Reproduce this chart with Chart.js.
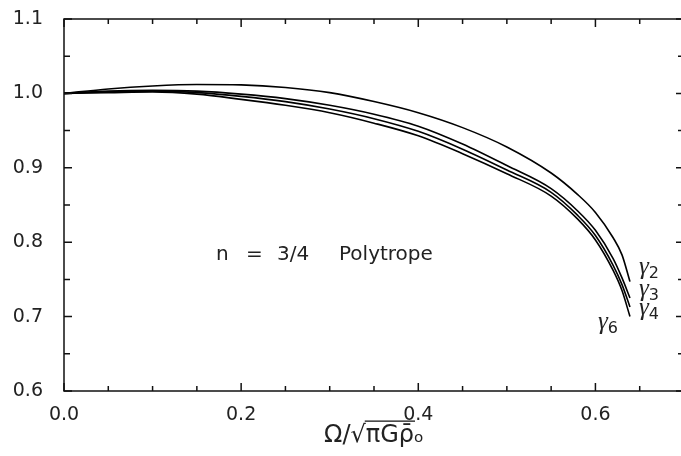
<!DOCTYPE html>
<html>
<head>
<meta charset="utf-8">
<script src="https://cdn.jsdelivr.net/npm/chart.js@4.4.1/dist/chart.umd.min.js"></script>
<style>
html, body { margin: 0; padding: 0; background: #fff; overflow: hidden; }
canvas { display: block; }
</style>
</head>
<body>
<canvas id="polytropeChart" width="684" height="456"></canvas>
<script>
// Omega / sqrt(pi G rho), shared by every curve
let omega  = [0, 0.05, 0.1, 0.15, 0.2, 0.25, 0.3, 0.35, 0.4, 0.45, 0.5, 0.55, 0.58, 0.6, 0.62, 0.63, 0.639];
let gamma2 = [1.000, 1.006, 1.010, 1.012, 1.0115, 1.008, 1.001, 0.989, 0.974, 0.954, 0.928, 0.893, 0.864, 0.840, 0.806, 0.783, 0.747];
let gamma3 = [1.000, 1.003, 1.004, 1.003, 0.999, 0.993, 0.984, 0.972, 0.956, 0.932, 0.903, 0.872, 0.842, 0.816, 0.778, 0.752, 0.725];
let gamma4 = [1.000, 1.002, 1.003, 1.001, 0.996, 0.989, 0.979, 0.966, 0.949, 0.925, 0.897, 0.867, 0.836, 0.809, 0.769, 0.743, 0.713];
let gamma6 = [1.000, 1.001, 1.002, 0.999, 0.992, 0.984, 0.974, 0.960, 0.943, 0.919, 0.892, 0.862, 0.831, 0.803, 0.762, 0.735, 0.700];
let seriesNames = ['2', '3', '4', '6'];

// labelled ticks (minor ticks every 0.05 in between)
let xLabels = [0, 0.2, 0.4, 0.6];
let yLabels = [0.6, 0.7, 0.8, 0.9, 1.0, 1.1];

const FONT = '"DejaVu Sans", sans-serif';
const TEXT = '#222';

function isLabelled(list, v) {
    return list.some(function(l) { return Math.abs(l - v) < 1e-6; });
}

// inward ticks on all four sides plus the frame, labels on the curves
const framePlugin = {
    id: 'frameTicks',
    afterDraw: function(chart) {
        const ctx = chart.ctx;
        const a = chart.chartArea;
        const xs = chart.scales.x, ys = chart.scales.y;
        ctx.save();
        ctx.strokeStyle = '#111';
        ctx.lineWidth = 1.5;
        ctx.strokeRect(a.left, a.top, a.right - a.left, a.bottom - a.top);
        ctx.beginPath();
        xs.ticks.forEach(function(t) {
            const px = xs.getPixelForValue(t.value);
            const len = isLabelled(xLabels, t.value) ? 8 : 5;
            ctx.moveTo(px, a.bottom); ctx.lineTo(px, a.bottom - len);
            ctx.moveTo(px, a.top); ctx.lineTo(px, a.top + len);
        });
        ys.ticks.forEach(function(t) {
            const py = ys.getPixelForValue(t.value);
            const len = isLabelled(yLabels, t.value) ? 8 : 6;
            ctx.moveTo(a.left, py); ctx.lineTo(a.left + len, py);
            ctx.moveTo(a.right, py); ctx.lineTo(a.right - len, py);
        });
        ctx.stroke();

        // overline of the square root in the x title
        const tf = Chart.helpers.toFont(xs.options.title.font);
        const title = xs.options.title.text;
        ctx.font = tf.string;
        const cx = (xs.left + xs.right) / 2;
        const cy = xs.bottom - xs.options.title.padding.bottom - tf.lineHeight / 2;
        const full = ctx.measureText(title).width;
        const startX = cx - full / 2 + ctx.measureText('Ω/√').width - 1;
        const endX = cx - full / 2 + ctx.measureText('Ω/√πGρ̄').width + 1;
        ctx.lineWidth = 1.2;
        ctx.beginPath();
        ctx.moveTo(startX, cy - tf.size * 0.6);
        ctx.lineTo(endX, cy - tf.size * 0.6);
        ctx.stroke();

        // annotation
        ctx.fillStyle = TEXT;
        ctx.font = '20px ' + FONT;
        ctx.textBaseline = 'alphabetic';
        ctx.textAlign = 'left';
        ctx.fillText('n', 216, 260);
        ctx.fillText('=', 246, 260);
        ctx.fillText('3/4', 277, 260);
        ctx.fillText('Polytrope', 339, 260);

        // curve labels
        const labelPos = [[639, 274], [639, 296], [639, 315], [598, 329]];
        seriesNames.forEach(function(n, i) {
            const p = labelPos[i];
            ctx.font = 'italic 25px "Liberation Serif", serif';
            ctx.fillText('γ', p[0], p[1]);
            const w = ctx.measureText('γ').width;
            ctx.font = '16px ' + FONT;
            ctx.fillText(n, p[0] + w, p[1] + 4);
        });
        ctx.restore();
    }
};

function makeData(values) {
    return omega.map(function(o, i) { return { x: o, y: values[i] }; });
}

let ctx = document.getElementById('polytropeChart').getContext('2d');
let myChart = new Chart(ctx, {
    type: 'line',
    data: {
        datasets: [gamma2, gamma3, gamma4, gamma6].map(function(vals, i) {
            return {
                label: 'γ' + seriesNames[i],
                data: makeData(vals),
                borderColor: '#000',
                borderWidth: 1.6,
                pointRadius: 0,
                fill: false,
                cubicInterpolationMode: 'monotone'
            };
        })
    },
    options: {
        responsive: false,
        animation: false,
        layout: { padding: { top: 19, right: 0, left: 0, bottom: 0 } },
        plugins: {
            legend: { display: false },
            tooltip: { enabled: false }
        },
        scales: {
            x: {
                type: 'linear',
                min: 0,
                max: 0.7,
                grid: { display: false, drawTicks: false },
                border: { display: false },
                ticks: {
                    stepSize: 0.05,
                    autoSkip: false,
                    maxRotation: 0,
                    padding: 13,
                    color: TEXT,
                    font: { family: FONT, size: 19 },
                    callback: function(v) { return isLabelled(xLabels, v) ? v.toFixed(1) : ''; }
                },
                title: {
                    display: true,
                    text: 'Ω/√πGρ̄ₒ',
                    color: TEXT,
                    font: { family: FONT, size: 24 },
                    padding: { top: 0, bottom: 6 }
                },
                afterFit: function(scale) {
                    scale.height = 65;
                    scale.paddingLeft = 0;
                    scale.paddingRight = 0;
                }
            },
            y: {
                min: 0.6,
                max: 1.1,
                grid: { display: false, drawTicks: false },
                border: { display: false },
                ticks: {
                    stepSize: 0.05,
                    autoSkip: false,
                    padding: 21,
                    color: TEXT,
                    font: { family: FONT, size: 19 },
                    callback: function(v) { return isLabelled(yLabels, v) ? v.toFixed(1) : ''; }
                },
                afterFit: function(scale) {
                    scale.width = 64;
                    scale.paddingTop = 0;
                    scale.paddingBottom = 0;
                }
            }
        }
    },
    plugins: [framePlugin]
});
</script>
</body>
</html>
